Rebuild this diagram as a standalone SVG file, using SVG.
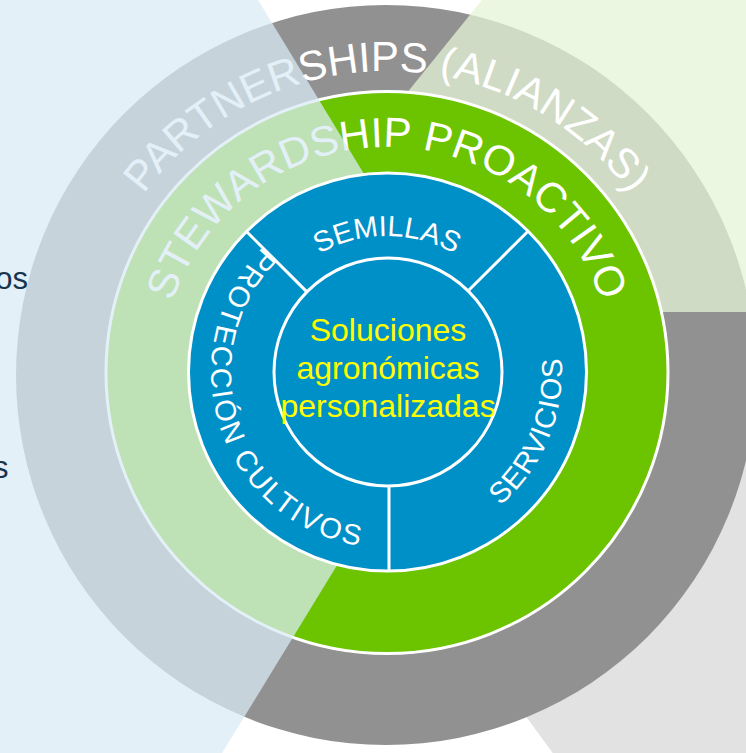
<svg xmlns="http://www.w3.org/2000/svg" width="746" height="753" viewBox="0 0 746 753">
<defs>
<style>
.lbl{font-family:"Liberation Sans",Arial,sans-serif;fill:#ffffff;}
.outer{font-size:42px}
.mid{font-size:42px}
.inner{font-size:29px}
.core{font-family:"Liberation Sans",Arial,sans-serif;font-size:32px;fill:#ffff00;}
.side{font-family:"Liberation Sans",Arial,sans-serif;font-size:31px;fill:#17364d;}
.div{stroke:#ffffff;stroke-width:3;fill:none}
</style>
<path id="arcP" d="M85,373 A302,302 0 0 1 689,373"/>
<path id="arcS" d="M161,373 A226,226 0 0 1 613,373"/>
<path id="arcSem" d="M251,372 A136,136 0 0 1 523,372"/>
<path id="arcSer" d="M319.65,534.6 A176,176 0 0 0 454.35,209.4"/>
<path id="arcPro" d="M332,204.8 A176,176 0 0 0 442,539.2"/>
</defs>
<rect width="746" height="753" fill="#ffffff"/>
<g id="background">
<polygon points="560,763 756,763 756,380 280,380" fill="#e2e2e2"/>
</g>
<g id="partnerships">
<circle cx="386" cy="375" r="370" fill="#919191"/>
<polygon points="490,-10 756,-10 756,312 230,312" fill="#e4f4d6" fill-opacity="0.75"/>
<text class="lbl outer" text-anchor="middle"><textPath href="#arcP" startOffset="50%">PARTNERSHIPS (ALIANZAS)</textPath></text>
</g>
<g id="stewardship">
<circle cx="387" cy="372.5" r="281" fill="#6cc400" stroke="#ffffff" stroke-width="3"/>
<text class="lbl mid" text-anchor="middle"><textPath href="#arcS" startOffset="50%">STEWARDSHIP PROACTIVO</textPath></text>
</g>
<g id="left-sector">
<polygon points="-10,-10 252,-10 470,348 216,763 -10,763" fill="#dbebf6" fill-opacity="0.74"/>
<text class="side" x="28" y="289" text-anchor="end">os</text>
<text class="side" x="8.5" y="478" text-anchor="end">s</text>
</g>
<g id="products">
<circle cx="387.5" cy="372" r="199" fill="#0090c8" stroke="#ffffff" stroke-width="3"/>
<g id="dividers">
<line class="div" x1="306.4" y1="291.4" x2="246.3" y2="231.3"/>
<line class="div" x1="469" y1="290" x2="528" y2="231.3"/>
<line class="div" x1="389" y1="484" x2="389" y2="572"/>
</g>
<text class="lbl inner" text-anchor="middle"><textPath href="#arcSem" startOffset="50%">SEMILLAS</textPath></text>
<text class="lbl inner" text-anchor="middle" letter-spacing="1"><textPath href="#arcSer" startOffset="50%">SERVICIOS</textPath></text>
<text class="lbl inner" text-anchor="middle" letter-spacing="2.4"><textPath href="#arcPro" startOffset="50%">PROTECCIÓN CULTIVOS</textPath></text>
</g>
<g id="center">
<circle cx="388" cy="372" r="114" fill="#0090c8" stroke="#ffffff" stroke-width="3"/>
<text class="core" x="388" y="341" text-anchor="middle">Soluciones</text>
<text class="core" x="388" y="379" text-anchor="middle">agronómicas</text>
<text class="core" x="388" y="417" text-anchor="middle">personalizadas</text>
</g>
</svg>
